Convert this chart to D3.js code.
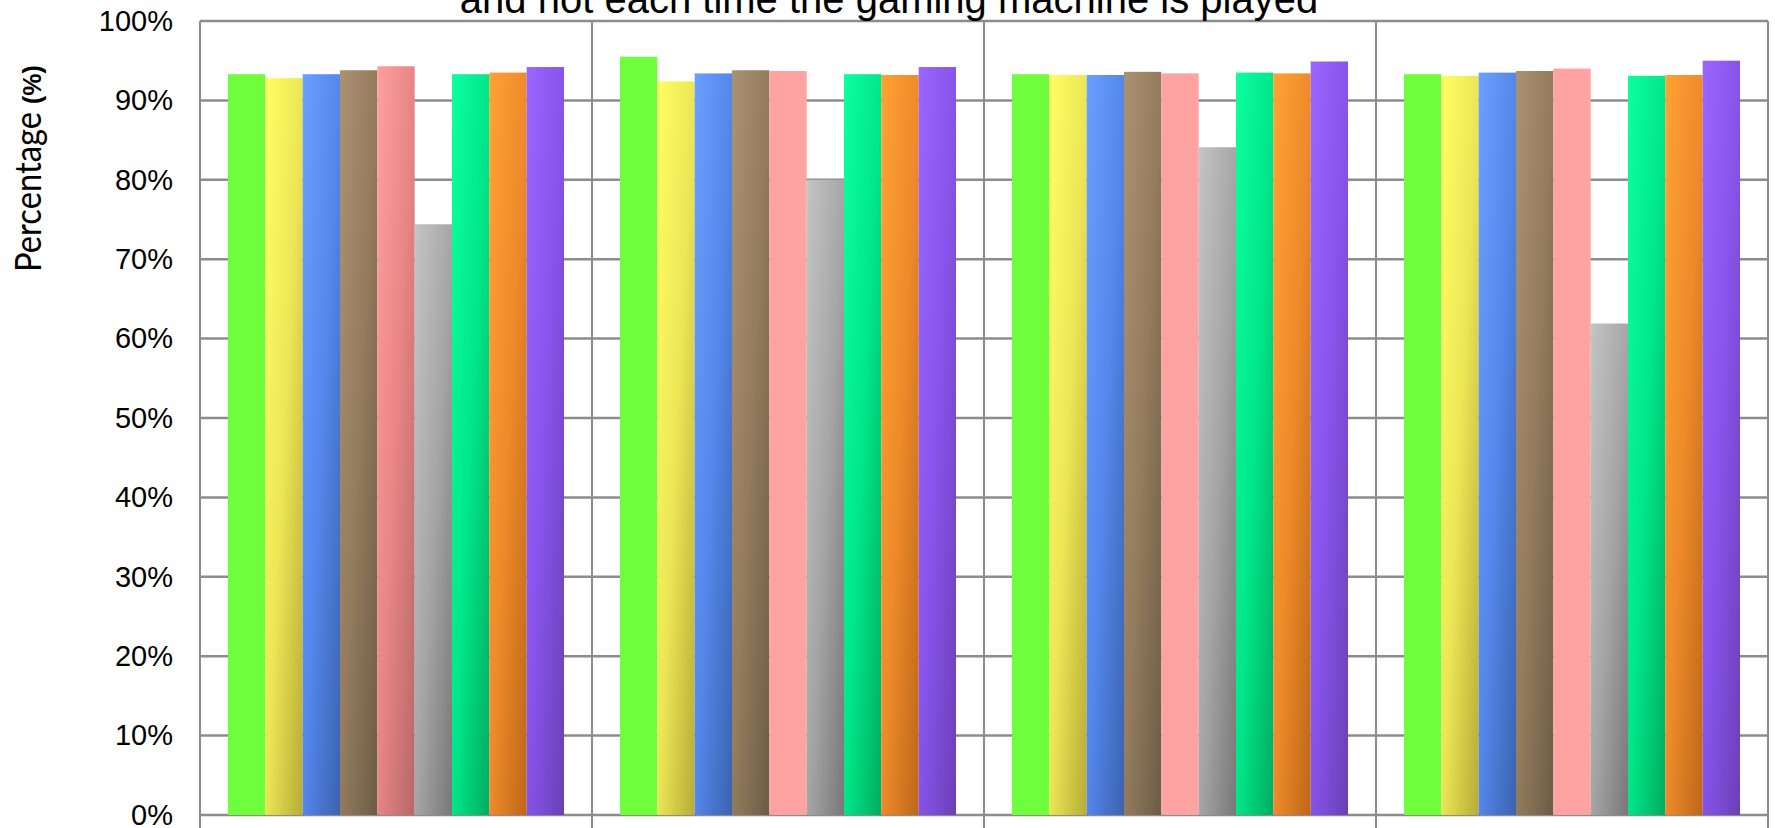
<!DOCTYPE html>
<html>
<head>
<meta charset="utf-8">
<script src="https://cdn.jsdelivr.net/npm/d3@7/dist/d3.min.js"></script>
<style>
  html, body { margin: 0; padding: 0; background: #fff; }
  svg { display: block; }
</style>
</head>
<body>
<svg id="chart" width="1775" height="828"></svg>
<script>
// ---------------- data ----------------
const categories = ["Group 1", "Group 2", "Group 3", "Group 4"];
const seriesNames = ["Series 1", "Series 2", "Series 3", "Series 4", "Series 5",
                     "Series 6", "Series 7", "Series 8", "Series 9"];
// values (%) per category, one entry per series
const values1 = [93.3, 92.8, 93.3, 93.8, 94.3, 74.4, 93.3, 93.5, 94.2];
const values2 = [95.5, 92.4, 93.4, 93.8, 93.7, 80.0, 93.3, 93.2, 94.2];
const values3 = [93.3, 93.2, 93.2, 93.6, 93.4, 84.1, 93.5, 93.4, 94.9];
const values4 = [93.3, 93.1, 93.5, 93.7, 94.0, 61.9, 93.1, 93.2, 95.0];
const yTicks = [0, 10, 20, 30, 40, 50, 60, 70, 80, 90, 100];
const titleText = "and not each time the gaming machine is played";
const yLabelMain = "Percentage";
const yLabelUnit = "(%)";

// ---------------- styles ----------------
// [top-left, middle, bottom-right] colours for each series
const seriesShades = [
  ["#6efe3c", "#6efe3c", "#6efe3c"],
  ["#ffff62", "#ece656", "#b6ac36"],
  ["#6aa0ff", "#5387ea", "#3b62b0"],
  ["#aa9272", "#937b5c", "#6c5c46"],
  ["#ffa2a2", "#ffa2a2", "#ffa2a2"],
  ["#c4c4c4", "#a6a6a6", "#787878"],
  ["#0cffa0", "#00e68a", "#00ad5e"],
  ["#ffa234", "#ee8a2a", "#bd6718"],
  ["#9b66ff", "#8753ea", "#6a40b6"]
];
const shadedPink = ["#ffa0a0", "#e88484", "#b66868"];

const W = 1775, H = 828;
const plot = { left: 200, right: 1768, top: 21, bottom: 815 };
const gridColor = "#8c8c8c";

const svg = d3.select("#chart");
const defs = svg.append("defs");

function addGradient(id, stops) {
  const g = defs.append("linearGradient")
    .attr("id", id)
    .attr("x1", 0).attr("y1", 0).attr("x2", 1).attr("y2", 1);
  g.append("stop").attr("offset", "0%").attr("stop-color", stops[0]);
  g.append("stop").attr("offset", "50%").attr("stop-color", stops[1]);
  g.append("stop").attr("offset", "100%").attr("stop-color", stops[2]);
}
seriesShades.forEach((s, i) => addGradient("grad" + i, s));
addGradient("gradPinkShaded", shadedPink);

const allValues = [values1, values2, values3, values4];
const data = categories.map((c, ci) => ({
  category: c,
  bars: seriesNames.map((s, si) => ({ series: s, si, ci, value: allValues[ci][si] }))
}));

// ---------------- scales ----------------
const x0 = d3.scaleBand().domain(categories).range([plot.left, plot.right]).padding(0);
const gapFrac = 0.0714;
const x1 = d3.scaleBand().domain(seriesNames)
  .range([x0.bandwidth() * gapFrac, x0.bandwidth() * (1 - gapFrac)]).padding(0);
const y = d3.scaleLinear().domain([0, 100]).range([plot.bottom, plot.top]);

// ---------------- grid ----------------
const grid = svg.append("g");
grid.selectAll("line.h").data(yTicks).enter().append("line")
  .attr("x1", plot.left).attr("x2", plot.right)
  .attr("y1", d => y(d)).attr("y2", d => y(d))
  .attr("stroke", gridColor).attr("stroke-width", 2.5);

// vertical category separators (extend below axis as tick marks)
const sepX = categories.map(c => x0(c)).concat([plot.right]);
grid.selectAll("line.v").data(sepX).enter().append("line")
  .attr("x1", d => d).attr("x2", d => d)
  .attr("y1", plot.top).attr("y2", H)
  .attr("stroke", gridColor).attr("stroke-width", 2);

// ---------------- bars ----------------
const groups = svg.append("g").selectAll("g").data(data).enter().append("g")
  .attr("transform", d => `translate(${x0(d.category)},0)`);
groups.selectAll("rect").data(d => d.bars).enter().append("rect")
  .attr("x", d => x1(d.series))
  .attr("width", x1.bandwidth())
  .attr("y", d => y(d.value))
  .attr("height", d => y(0) - y(d.value))
  .attr("fill", d => (d.ci === 0 && d.si === 4) ? "url(#gradPinkShaded)" : `url(#grad${d.si})`);

// ---------------- y axis ----------------
const yAxis = d3.axisLeft(y).tickValues(yTicks).tickSize(0).tickPadding(27)
  .tickFormat(d => d + "%");
const ya = svg.append("g").attr("transform", `translate(${plot.left},0)`).call(yAxis);
ya.select(".domain").remove();
ya.selectAll("text")
  .attr("font-family", "'Liberation Sans', Arial, sans-serif")
  .attr("font-size", 29).attr("fill", "#000");

// y axis label (two parts, rotated)
svg.append("text")
  .attr("transform", "translate(41,272) rotate(-90)")
  .attr("text-anchor", "start")
  .attr("font-family", "Lato, 'Open Sans', sans-serif").attr("font-size", 36)
  .attr("textLength", 160).attr("lengthAdjust", "spacingAndGlyphs")
  .attr("fill", "#000")
  .text(yLabelMain);
svg.append("text")
  .attr("transform", "translate(41,104) rotate(-90)")
  .attr("text-anchor", "start")
  .attr("font-family", "'Liberation Sans', Arial, sans-serif").attr("font-weight", "bold")
  .attr("font-size", 25).attr("fill", "#000")
  .text(yLabelUnit);

// title (second line, clipped at top)
svg.append("text")
  .attr("x", 889).attr("y", 12.5)
  .attr("text-anchor", "middle")
  .attr("font-family", "'Liberation Sans', Arial, sans-serif")
  .attr("font-size", 40).attr("fill", "#000")
  .text(titleText);
</script>
</body>
</html>
